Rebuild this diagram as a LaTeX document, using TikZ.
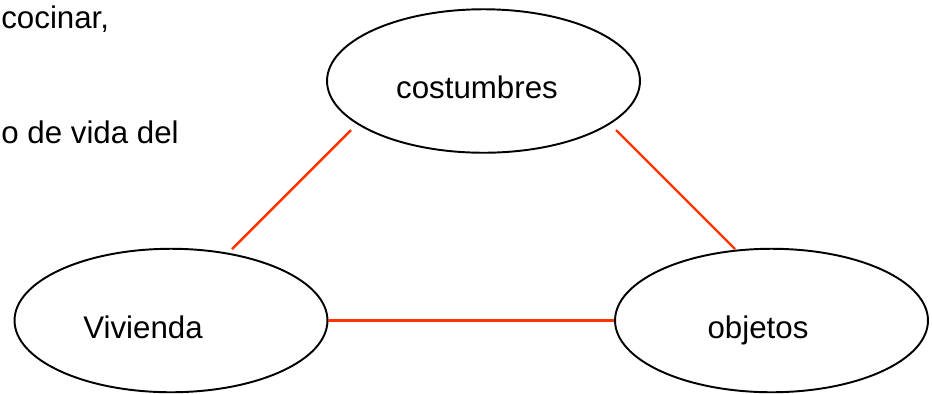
\documentclass[tikz,border=0pt]{standalone}
\usepackage{fontspec}
\setmainfont{Liberation Sans}
\usetikzlibrary{shapes.geometric, positioning}
\definecolor{linkred}{RGB}{255,51,0}

\begin{document}
\begin{tikzpicture}[
    x=0.02cm, y=-0.02cm,
    bubble/.style={ellipse, draw=black, line width=1.1pt, minimum width=6.26cm, minimum height=2.87cm, inner sep=0pt},
    word/.style={inner sep=0pt, font=\fontsize{17.8pt}{21pt}\selectfont},
    link/.style={draw=linkred, line width=1.4pt}
]
    \useasboundingbox (0,0) rectangle (932,393);
    % texto a la izquierda
    \node[word, anchor=base west] (txtuno) at (1,28) {cocinar,};
    \node[word, anchor=base west] (txtdos) at (1,143) {o de vida del};

    % tres elipses
    \node[bubble] (cost) at (483.5,81) {};
    \node[bubble] (viv) at (171,320.5) {};
    \node[bubble] (obj) at (771.5,320.5) {};
    \node[word, anchor=base] (costtxt) at (477,98) {costumbres};
    \node[word, anchor=base] (vivtxt) at (143,338) {Vivienda};
    \node[word, anchor=base] (objtxt) at (758,338) {objetos};

    % lineas rojas
    \coordinate (a1) at (351,130);
    \coordinate (a2) at (232,249);
    \coordinate (b1) at (616,130);
    \coordinate (b2) at (735,249);
    \draw[link] (a1) -- (a2);
    \draw[link] (b1) -- (b2);
    \draw[link] (viv.east) -- (obj.west);
\end{tikzpicture}
\end{document}
